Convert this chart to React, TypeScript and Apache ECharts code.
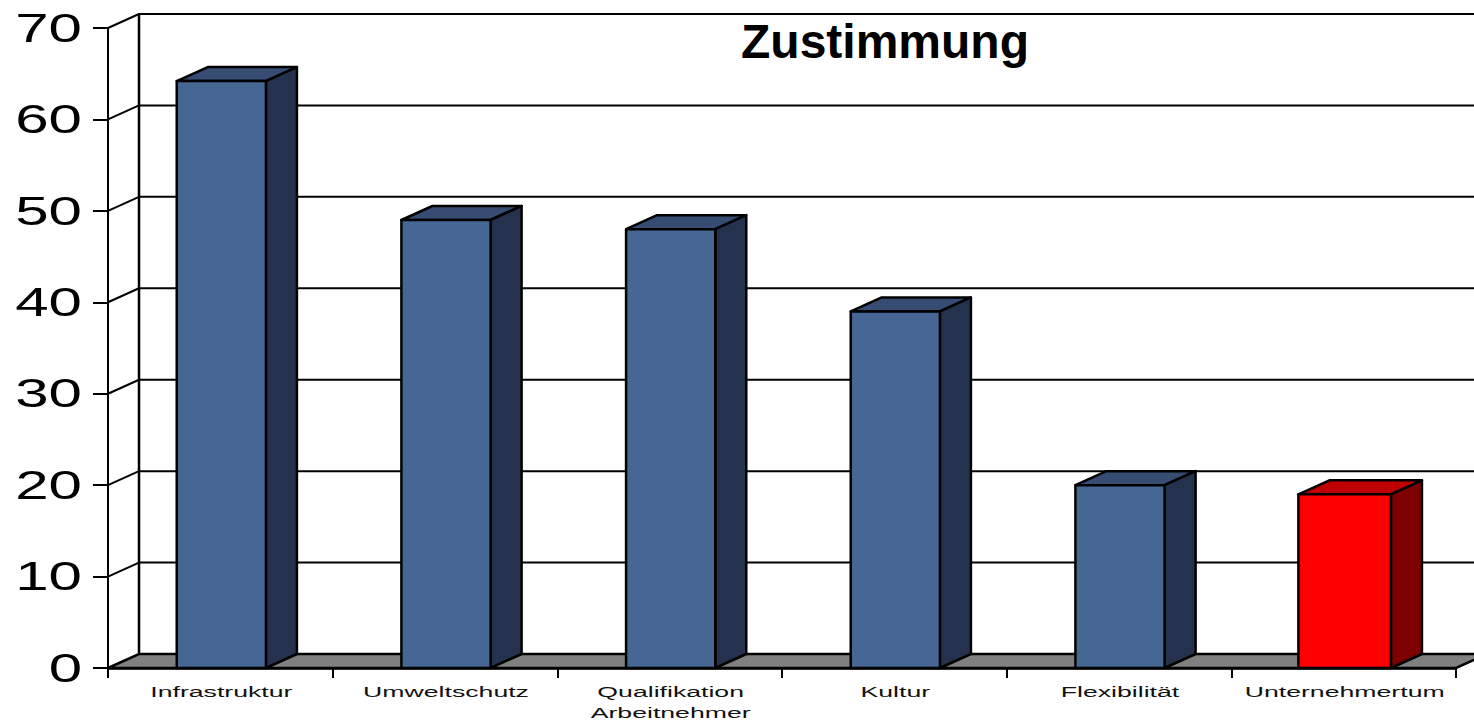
import React, { useEffect, useRef } from "react";
import * as echarts from "echarts";

const categories = ["Infrastruktur", "Umweltschutz", "Qualifikation\nArbeitnehmer", "Kultur", "Flexibilität", "Unternehmertum"];
const values = [64.2, 49, 48, 39, 20, 19];
const yTicks = [0, 10, 20, 30, 40, 50, 60, 70];
const titleText = "Zustimmung";
const highlighted = "Unternehmertum";

const DX = 31;
const DY = -14;
const FONT = '"Liberation Sans", Arial, sans-serif';
const line = { stroke: "#000", lineWidth: 2, lineJoin: "round" as const, fill: "none" };

export default function App() {
  const ref = useRef<HTMLDivElement>(null);
  useEffect(() => {
    document.body.style.margin = "0";
    document.body.style.overflow = "hidden";
    const chart = echarts.init(ref.current!, undefined, { renderer: "svg" });

    const renderWalls = (params: any, api: any) => {
      const cs = params.coordSys;
      const v = api.value(1);
      const y = api.coord([0, v])[1];
      const x0 = cs.x;
      const x1 = cs.x + cs.width;
      const children: any[] = [];
      if (v === 0) {
        children.push({
          type: "polygon", z2: 1,
          shape: { points: [[x0, y], [x0 + DX, y + DY], [x1 + DX, y + DY], [x1, y]] },
          style: { fill: "#808080", stroke: "#000", lineWidth: 2.5 },
        });
        children.push({
          type: "line", z2: 2,
          shape: { x1: x0 + DX, y1: y + DY, x2: x0 + DX, y2: cs.y + DY },
          style: { ...line, lineWidth: 2.5 },
        });
      } else {
        children.push({
          type: "polyline", z2: 2,
          shape: { points: [[x0, y], [x0 + DX, y + DY], [x1 + DX, y + DY]] },
          style: line,
        });
      }
      return { type: "group", children };
    };

    const renderBars = (params: any, api: any) => {
      const i = api.value(0);
      const v = api.value(1);
      const isHi = categories[i] === highlighted;
      const [cx, top] = api.coord([i, v]);
      const base = api.coord([i, 0])[1];
      const w = api.size([1, 0])[0] * (isHi ? 0.412 : 0.397);
      const l = cx + 1 - w / 2;
      const r = l + w;
      const border = { stroke: "#000", lineWidth: 2.5, lineJoin: "round" };
      return {
        type: "group",
        children: [
          {
            type: "polygon",
            shape: { points: [[l, top], [l + DX, top + DY], [r + DX, top + DY], [r, top]] },
            style: { fill: isHi ? "#bf0000" : "#364c73", ...border },
          },
          {
            type: "polygon",
            shape: { points: [[r, top], [r + DX, top + DY], [r + DX, base + DY], [r, base]] },
            style: { fill: isHi ? "#7f0000" : "#24324e", ...border },
          },
          {
            type: "rect",
            shape: { x: l, y: top, width: w, height: base - top },
            style: { fill: isHi ? "#ff0000" : "#466694", ...border },
          },
        ],
      };
    };

    const renderYLabels = (params: any, api: any) => {
      const v = api.value(1);
      const y = api.coord([0, v])[1];
      return {
        type: "text",
        x: 82,
        y: y,
        scaleX: 1.5,
        style: { text: String(v), font: `40px ${FONT}`, fill: "#000", align: "right", verticalAlign: "middle" },
      };
    };

    const renderXLabels = (params: any, api: any) => {
      const i = api.value(0);
      const x = api.coord([i, 0])[0];
      return {
        type: "text",
        x: x + 1,
        y: 681,
        scaleX: 1.72,
        style: { text: categories[i], font: `15.5px ${FONT}`, lineHeight: 21, fill: "#111", align: "center", verticalAlign: "top" },
      };
    };

    chart.setOption({
      animation: false,
      backgroundColor: "#fff",
      title: {
        text: titleText,
        left: 736,
        top: 12,
        textStyle: { fontFamily: FONT, fontSize: 48, fontWeight: "bold", color: "#000" },
      },
      grid: { left: 108, right: 18, top: 28, bottom: 54, containLabel: false },
      xAxis: {
        type: "category",
        data: categories,
        boundaryGap: true,
        axisLine: { show: true, lineStyle: { color: "#000", width: 2.5 } },
        axisTick: { show: true, alignWithLabel: false, length: 10, lineStyle: { color: "#000", width: 2 } },
        axisLabel: { show: false },
        splitLine: { show: false },
      },
      yAxis: {
        type: "value",
        min: 0,
        max: 70,
        interval: 10,
        axisLine: { show: true, lineStyle: { color: "#000", width: 2 } },
        axisTick: { show: true, length: 15, lineStyle: { color: "#000", width: 2 } },
        axisLabel: { show: false },
        splitLine: { show: false },
      },
      series: [
        { type: "custom", z: 1, renderItem: renderWalls, data: yTicks.map((v) => [0, v]), silent: true },
        { type: "custom", z: 3, renderItem: renderBars, data: values.map((v, i) => [i, v]), silent: true },
        { type: "custom", z: 4, renderItem: renderYLabels, data: yTicks.map((v) => [0, v]), silent: true },
        { type: "custom", z: 4, renderItem: renderXLabels, data: categories.map((_, i) => [i, 0]), silent: true },
      ],
    });
    return () => chart.dispose();
  }, []);
  return <div ref={ref} style={{ width: 1474, height: 722 }} />;
}
